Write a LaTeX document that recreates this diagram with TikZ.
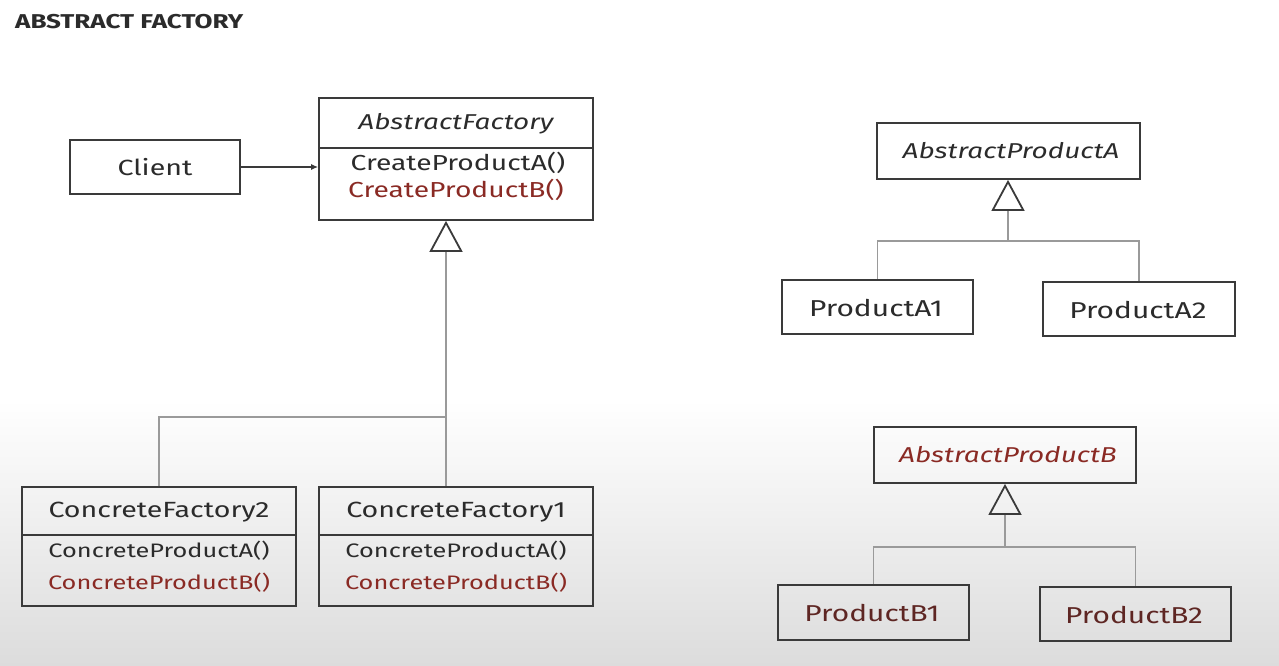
\documentclass[tikz,border=0pt]{standalone}
\usepackage{fontspec}
\setmainfont{Fira Sans}[FakeStretch=1.3]
\usetikzlibrary{arrows.meta}
\definecolor{ink}{HTML}{2B2B2B}
\definecolor{edge}{HTML}{3A3A3A}
\definecolor{wire}{HTML}{9A9A9A}
\definecolor{rust}{HTML}{8A2A24}
\definecolor{rustdark}{HTML}{5E2623}
\definecolor{floor}{HTML}{DCDCDC}
\tikzset{
  box/.style n args={2}{draw=edge, line width=1.8pt, minimum width=#1, minimum height=#2, inner sep=0pt},
  label/.style={text=ink, inner sep=0pt, font=\fontsize{21}{24}\selectfont},
  method/.style={label, font=\fontsize{21.7}{24}\selectfont},
  cmethod/.style={label, font=\fontsize{19.5}{24}\selectfont},
  abstract/.style={label, font=\fontsize{21.5}{24}\selectfont\itshape},
  cname/.style={label, font=\fontsize{23}{26}\selectfont},
  divider/.style={draw=edge, line width=1.8pt},
  wireline/.style={draw=wire, line width=1.3pt},
  inherit/.style={wireline, -{Triangle[open, length=31pt, width=33pt, line width=1.8pt, color=edge]}},
  uses/.style={draw=edge, line width=1.3pt, -{Latex[length=7pt, width=6pt]}},
}
\begin{document}
\begin{tikzpicture}[x=1pt, y=-1pt]
  \useasboundingbox (0,0) rectangle (1279,666);
  % page background: white fading to grey toward the bottom
  \fill[white] (0,0) rectangle (1279,666);
  \shade[top color=white, bottom color=floor] (0,400) rectangle (1279,666);

  \node[anchor=west, text=ink, inner sep=0pt, font=\fontsize{20}{22}\selectfont\bfseries] (title) at (15,22) {ABSTRACT FACTORY};

  % factory side
  \node[box={170pt}{54pt}] (client) at (155,167) {};
  \node[cname, font=\fontsize{22}{26}\selectfont] (clientT) at (155,167) {Client};

  \node[box={274pt}{122pt}] (af) at (456,159) {};
  \draw[divider] (af.west |- 0,148) -- (af.east |- 0,148);
  \node[abstract] (afT) at (456,124) {AbstractFactory};
  \node[method] (afA) at (458,163) {CreateProductA()};
  \node[method, text=rust] (afB) at (456,190) {CreateProductB()};

  \node[box={274pt}{119pt}] (cf2) at (159,546.5) {};
  \draw[divider] (cf2.west |- 0,535) -- (cf2.east |- 0,535);
  \node[cname, font=\fontsize{22}{26}\selectfont] (cf2T) at (159,512) {ConcreteFactory2};
  \node[cmethod] (cf2A) at (159,551) {ConcreteProductA()};
  \node[cmethod, text=rust] (cf2B) at (159,583) {ConcreteProductB()};

  \node[box={274pt}{119pt}] (cf1) at (456,546.5) {};
  \draw[divider] (cf1.west |- 0,535) -- (cf1.east |- 0,535);
  \node[cname, font=\fontsize{22}{26}\selectfont] (cf1T) at (456,512) {ConcreteFactory1};
  \node[cmethod] (cf1A) at (456,551) {ConcreteProductA()};
  \node[cmethod, text=rust] (cf1B) at (456,583) {ConcreteProductB()};

  \coordinate (jf) at (446,417);
  \draw[uses] (client.east) -- (client.east -| af.west);
  \draw[inherit] (jf |- cf1.north) -- (jf |- af.south);
  \draw[wireline] (cf2.north) -- (cf2.north |- jf) -- (jf);

  % product A family
  \node[box={263pt}{56pt}] (apa) at (1008.5,151) {};
  \node[abstract] (apaT) at (1011,151) {AbstractProductA};
  \node[box={191pt}{54pt}] (pa1) at (877.5,307) {};
  \node[cname] (pa1T) at (876,308) {ProductA1};
  \node[box={192pt}{54pt}] (pa2) at (1139,309) {};
  \node[cname] (pa2T) at (1138,310) {ProductA2};

  \coordinate (ja) at (1008,241);
  \draw[inherit] (ja) -- (ja |- apa.south);
  \draw[wireline] (pa1.north) -- (pa1.north |- ja) -- (pa2.north |- ja) -- (pa2.north);

  % product B family
  \node[box={262pt}{56pt}] (apb) at (1005,455) {};
  \node[abstract, text=rust] (apbT) at (1008,455) {AbstractProductB};
  \node[box={191pt}{55pt}] (pb1) at (873.5,612.5) {};
  \node[cname, text=rustdark] (pb1T) at (872,613) {ProductB1};
  \node[box={191pt}{54pt}] (pb2) at (1135.5,614) {};
  \node[cname, text=rustdark] (pb2T) at (1134,615) {ProductB2};

  \coordinate (jb) at (1005,547);
  \draw[inherit] (jb) -- (jb |- apb.south);
  \draw[wireline] (pb1.north) -- (pb1.north |- jb) -- (pb2.north |- jb) -- (pb2.north);
\end{tikzpicture}
\end{document}
